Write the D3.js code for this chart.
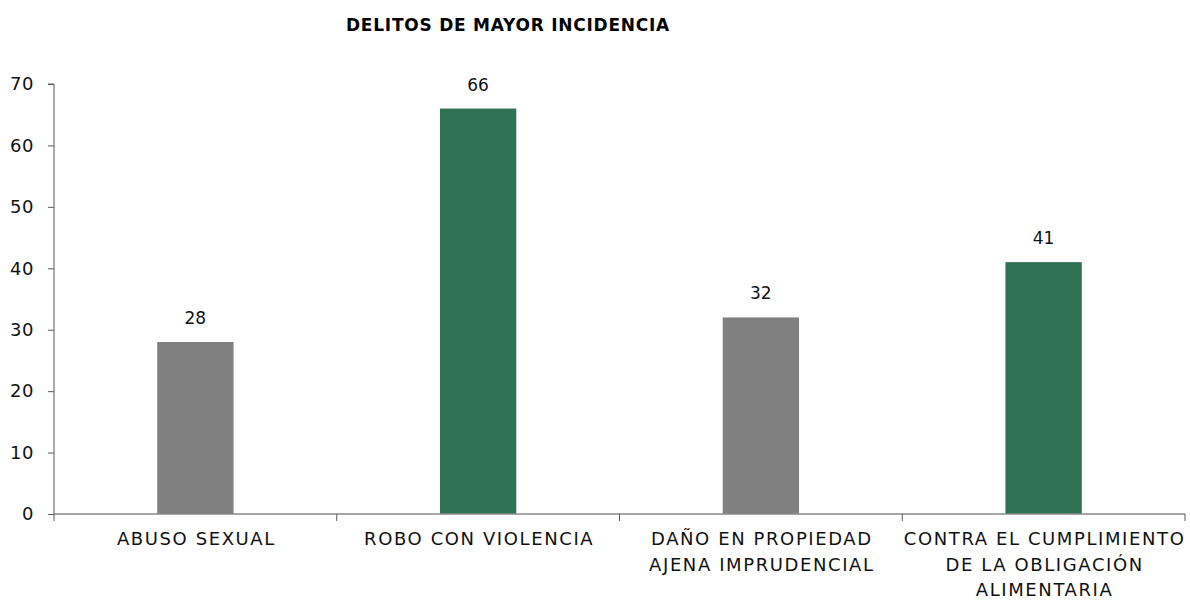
<!DOCTYPE html>
<html>
<head>
<meta charset="utf-8">
<script src="https://cdn.jsdelivr.net/npm/d3@7"></script>
<style>
  body { margin: 0; background: #fff; }
  svg { display: block; }
</style>
</head>
<body>
<div id="chart"></div>
<script>
const title = "DELITOS DE MAYOR INCIDENCIA";
const categories = [
  ["ABUSO SEXUAL"],
  ["ROBO CON VIOLENCIA"],
  ["DAÑO EN PROPIEDAD", "AJENA IMPRUDENCIAL"],
  ["CONTRA EL CUMPLIMIENTO", "DE LA OBLIGACIÓN", "ALIMENTARIA"]
];
const values = [28, 66, 32, 41];
const barColors = ["#808080", "#2e7253", "#808080", "#2e7253"];
const yTicks = [0, 10, 20, 30, 40, 50, 60, 70];

const W = 1190, H = 602;
const margin = { top: 84, right: 5, bottom: 88, left: 54 };
const width = W - margin.left - margin.right;
const height = H - margin.top - margin.bottom;
const font = "'DejaVu Sans', sans-serif";

const svg = d3.select("#chart").append("svg")
  .attr("width", W).attr("height", H);

// title, stretched a bit to the width of the original wide font
const t = svg.append("text")
  .attr("x", 508).attr("y", 31)
  .attr("text-anchor", "middle")
  .style("font-family", font)
  .style("font-weight", "bold")
  .style("font-size", "17px")
  .attr("fill", "#000")
  .text(title);
const tl = t.node().getComputedTextLength();
t.style("letter-spacing", Math.max(0, (324 - tl) / title.length) + "px");

const g = svg.append("g")
  .attr("transform", "translate(" + margin.left + "," + margin.top + ")");

const x = d3.scaleBand().domain(d3.range(categories.length)).range([0, width]).padding(0);
const y = d3.scaleLinear().domain([0, 70]).range([height, 0]);
const barW = x.bandwidth() * 0.27;

// y axis
const yAxis = g.append("g")
  .call(d3.axisLeft(y).tickValues(yTicks).tickSize(6).tickPadding(14).tickFormat(d3.format("d")));
yAxis.select(".domain").attr("stroke", "#595959").attr("d", "M-6," + y(70) + "H0V" + height);
yAxis.selectAll(".tick line").attr("stroke", "#595959");
yAxis.selectAll(".tick text")
  .style("font-family", font).style("font-size", "18px").style("letter-spacing", "0.5px")
  .attr("fill", "#111");

// bars
g.selectAll(".bar")
  .data(values)
  .enter().append("rect")
  .attr("class", "bar")
  .attr("x", (d, i) => x(i) + x.bandwidth() / 2 - barW / 2)
  .attr("y", d => y(d))
  .attr("width", barW)
  .attr("height", d => height - y(d))
  .attr("fill", (d, i) => barColors[i]);

// value labels
g.selectAll(".val")
  .data(values)
  .enter().append("text")
  .attr("class", "val")
  .attr("x", (d, i) => x(i) + x.bandwidth() / 2)
  .attr("y", d => y(d) - 18)
  .attr("text-anchor", "middle")
  .style("font-family", font).style("font-size", "17px")
  .attr("fill", "#111")
  .text(d => d);

// x axis
const xAxis = g.append("g").attr("transform", "translate(0," + height + ")");
xAxis.append("line")
  .attr("x1", 0).attr("x2", width)
  .attr("stroke", "#8a8a8a").attr("stroke-width", 1.5);
xAxis.selectAll(".xt")
  .data(d3.range(categories.length + 1))
  .enter().append("line")
  .attr("x1", i => i < categories.length ? x(i) : width)
  .attr("x2", i => i < categories.length ? x(i) : width)
  .attr("y1", 0).attr("y2", 7)
  .attr("stroke", "#595959");

const labels = xAxis.selectAll(".xl")
  .data(categories)
  .enter().append("text")
  .attr("class", "xl")
  .attr("text-anchor", "middle")
  .style("font-family", font).style("font-size", "18px").style("letter-spacing", "1.6px")
  .attr("fill", "#111");
labels.selectAll("tspan")
  .data((d, i) => d.map(s => ({ s, i })))
  .enter().append("tspan")
  .attr("x", d => x(d.i) + x.bandwidth() / 2 + 1)
  .attr("y", (d, j) => 31 + j * 25.5)
  .text(d => d.s);
</script>
</body>
</html>
